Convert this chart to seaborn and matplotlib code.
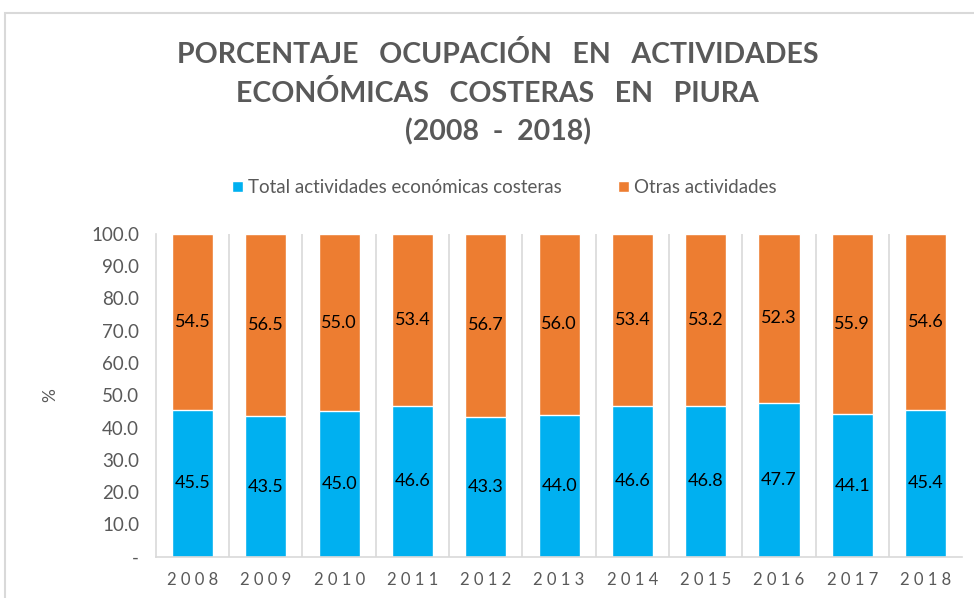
import matplotlib
matplotlib.use("Agg")
import matplotlib.pyplot as plt
from matplotlib.patches import Rectangle
import numpy as np
import pandas as pd
import seaborn as sns

# datos
years = ["2008", "2009", "2010", "2011", "2012", "2013", "2014", "2015", "2016", "2017", "2018"]
costeras = [45.5, 43.5, 45.0, 46.6, 43.3, 44.0, 46.6, 46.8, 47.7, 44.1, 45.4]
otras = [54.5, 56.5, 55.0, 53.4, 56.7, 56.0, 53.4, 53.2, 52.3, 55.9, 54.6]
yticks = [0, 10, 20, 30, 40, 50, 60, 70, 80, 90, 100]
ylabels = ["-", "10.0", "20.0", "30.0", "40.0", "50.0", "60.0", "70.0", "80.0", "90.0", "100.0"]
series_names = ["Total actividades económicas costeras", "Otras actividades"]
title = "PORCENTAJE   OCUPACIÓN   EN   ACTIVIDADES\nECONÓMICAS   COSTERAS   EN   PIURA\n(2008  -  2018)"

BLUE = "#00B0F0"
ORANGE = "#ED7D31"
GRAY = "#595959"

sns.set_style("white")
plt.rcParams["font.family"] = ["Lato", "DejaVu Sans"]

df = pd.DataFrame({"year": years, "costeras": costeras, "otras": otras})
df["total"] = df["costeras"] + df["otras"]

fig = plt.figure(figsize=(9.74, 5.98), dpi=100)
ax = fig.add_axes([0.160, 0.069, 0.828, 0.540])

# apilado: total (naranja) y encima la parte costera (azul)
sns.barplot(data=df, x="year", y="total", color=ORANGE, width=0.56, saturation=1, ax=ax, label=series_names[1])
sns.barplot(data=df, x="year", y="costeras", color=BLUE, width=0.56, saturation=1, ax=ax, label=series_names[0])

for i, (c, o) in enumerate(zip(costeras, otras)):
    ax.text(i, c / 2, f"{c:.1f}", ha="center", va="center", fontsize=13, color="black")
    ax.text(i, c + o / 2, f"{o:.1f}", ha="center", va="center", fontsize=13, color="black")

ax.set_ylim(0, 100)
ax.set_xlim(-0.5, len(years) - 0.5)
ax.set_yticks(yticks)
ax.set_yticklabels(ylabels)
ax.tick_params(axis="y", length=0, labelsize=13.5, labelcolor=GRAY, pad=12)
ax.tick_params(axis="x", length=0, labelsize=12, labelcolor=GRAY, pad=11)
ax.set_xlabel("")
ax.set_ylabel("%", color=GRAY, fontsize=12.5, labelpad=24)

# lineas verticales entre categorias
ax.set_xticks(np.arange(len(years) - 1) + 0.5, minor=True)
ax.tick_params(axis="x", which="minor", length=0)
ax.grid(True, axis="x", which="minor", color="#D9D9D9", linewidth=1.2)
ax.set_axisbelow(True)
for s in ["top", "right"]:
    ax.spines[s].set_visible(False)
for s in ["left", "bottom"]:
    ax.spines[s].set_color("#D9D9D9")
    ax.spines[s].set_linewidth(1.2)

ax.set_xticklabels([" ".join(y) for y in years])

handles, labels = ax.get_legend_handles_labels()
order = [labels.index(n) for n in series_names]
fig.legend([handles[k] for k in order], [labels[k] for k in order], loc="center",
           bbox_to_anchor=(0.518, 0.686), ncol=2, frameon=False, fontsize=13.5,
           handlelength=0.55, handleheight=0.55, handletextpad=0.3, columnspacing=3.0,
           labelcolor=GRAY)
if ax.get_legend() is not None:
    ax.get_legend().remove()

fig.text(0.511, 0.844, title, ha="center", va="center", fontsize=20.5, fontweight="bold",
         color=GRAY, linespacing=1.53)

# marco del grafico
fig.patches.append(Rectangle((0.005, -0.2), 1.2, 1.178, transform=fig.transFigure,
                             fill=False, edgecolor="#D9D9D9", linewidth=1.5))

fig.savefig("out.png", dpi=100)
